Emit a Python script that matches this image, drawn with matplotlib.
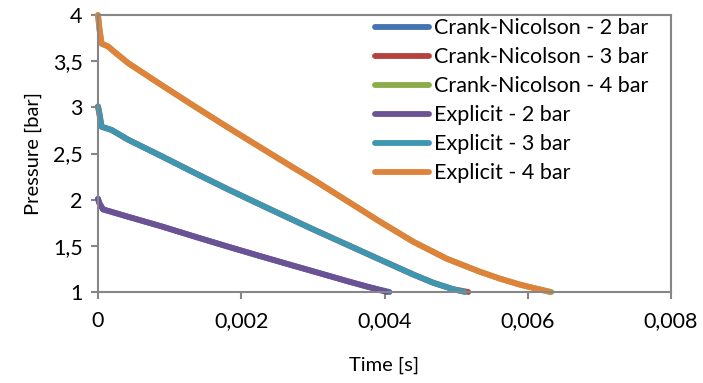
import matplotlib
matplotlib.use("Agg")
import matplotlib.pyplot as plt

plt.rcParams['font.family'] = ['Lato', 'DejaVu Sans']

# Time [s] and pressure [bar] samples for each run
t_exp_2 = [0.0, 0.00002, 0.00007, 0.00042, 0.00089, 0.00135, 0.00182, 0.00228, 0.00275,
           0.00300, 0.00347, 0.00375, 0.00403]
p_exp_2 = [2.01, 1.96, 1.895, 1.815, 1.71, 1.60, 1.49, 1.385, 1.28,
           1.225, 1.12, 1.06, 1.00]

t_exp_3 = [0.0, 0.00002, 0.00005, 0.00019, 0.00042, 0.00089, 0.00135, 0.00182, 0.00242,
           0.00300, 0.00347, 0.00394, 0.00440, 0.00468, 0.00496, 0.00512]
p_exp_3 = [3.01, 2.93, 2.79, 2.755, 2.65, 2.47, 2.29, 2.11, 1.89,
           1.68, 1.515, 1.35, 1.19, 1.10, 1.03, 1.00]

t_exp_4 = [0.0, 0.00002, 0.00005, 0.00014, 0.00023, 0.00042, 0.00089, 0.00135, 0.00182,
           0.00228, 0.00270, 0.00300, 0.00347, 0.00394, 0.00440, 0.00487, 0.00533,
           0.00561, 0.00589, 0.00610, 0.00631]
p_exp_4 = [4.00, 3.85, 3.69, 3.66, 3.60, 3.48, 3.24, 3.01, 2.78,
           2.56, 2.36, 2.22, 1.99, 1.76, 1.545, 1.36, 1.22,
           1.145, 1.08, 1.04, 1.00]

# Crank-Nicolson runs track the explicit ones, finishing a touch later
t_cn_2 = t_exp_2[:-1] + [0.00407]
p_cn_2 = p_exp_2
t_cn_3 = t_exp_3[:-1] + [0.00517]
p_cn_3 = p_exp_3
t_cn_4 = t_exp_4[:-1] + [0.00633]
p_cn_4 = p_exp_4

x_ticks = [0, 0.002, 0.004, 0.006, 0.008]
x_tick_labels = ["0", "0,002", "0,004", "0,006", "0,008"]
y_ticks = [1, 1.5, 2, 2.5, 3, 3.5, 4]
y_tick_labels = ["1", "1,5", "2", "2,5", "3", "3,5", "4"]

series = [
    ("Crank-Nicolson - 2 bar", t_cn_2, p_cn_2, "#4373B0"),
    ("Crank-Nicolson - 3 bar", t_cn_3, p_cn_3, "#B4423E"),
    ("Crank-Nicolson - 4 bar", t_cn_4, p_cn_4, "#8CAB4B"),
    ("Explicit - 2 bar", t_exp_2, p_exp_2, "#6B5295"),
    ("Explicit - 3 bar", t_exp_3, p_exp_3, "#3D97B0"),
    ("Explicit - 4 bar", t_exp_4, p_exp_4, "#E0833A"),
]

fig = plt.figure(figsize=(7.03, 3.83), dpi=100)
ax = fig.add_axes([0.1394, 0.2376, 0.8151, 0.7232])

for label, t, p, color in series:
    ax.plot(t, p, color=color, lw=4.2, label=label,
            solid_capstyle='round', solid_joinstyle='round', clip_on=False)

ax.set_xlim(0, 0.008)
ax.set_ylim(1, 4)
ax.set_xticks(x_ticks)
ax.set_xticklabels(x_tick_labels)
ax.set_yticks(y_ticks)
ax.set_yticklabels(y_tick_labels)

axis_grey = "#868686"
for side in ax.spines:
    ax.spines[side].set_color(axis_grey)
    ax.spines[side].set_linewidth(1.5)
ax.tick_params(axis='both', colors=axis_grey, labelcolor='black',
               length=5, width=1.5, labelsize=15.5)
ax.tick_params(axis='x', pad=9)
ax.tick_params(axis='y', pad=6)

ax.set_xlabel("Time [s]", fontsize=14.5, labelpad=18)
ax.set_ylabel("Pressure [bar]", fontsize=14.5, labelpad=8)

ax.legend(loc='upper right', bbox_to_anchor=(0.983, 1.035), frameon=False,
          fontsize=15.5, handlelength=2.5, handletextpad=0.25,
          labelspacing=0.42, borderaxespad=0.2)

fig.savefig("out.png", dpi=100)
